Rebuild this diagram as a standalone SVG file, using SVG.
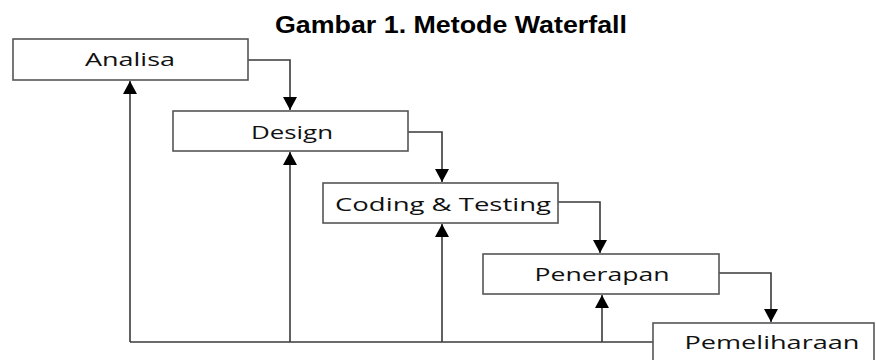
<svg xmlns="http://www.w3.org/2000/svg" width="877" height="360" viewBox="0 0 877 360">
<defs>
<marker id="arr" markerUnits="userSpaceOnUse" markerWidth="14" markerHeight="14" viewBox="0 0 14 14" refX="13" refY="7" orient="auto">
<path d="M0,0 L13,7 L0,14 Z" fill="#000"/>
</marker>
<style>
.box{fill:#fff;stroke:#555;stroke-width:1.6}
.lbl{font-family:"Open Sans","Noto Sans",sans-serif;font-size:19px;fill:#111;text-anchor:middle}
.ln{fill:none;stroke:#3a3a3a;stroke-width:1.6}
.title{font-family:"Liberation Sans",Arial,sans-serif;font-weight:bold;font-size:23px;fill:#000;text-anchor:middle}
</style>
</defs>
<rect width="877" height="360" fill="#fff"/>
<text class="title" x="451" y="33" textLength="352" lengthAdjust="spacingAndGlyphs">Gambar 1. Metode Waterfall</text>
<g id="connectors">
<path class="ln" d="M248,60 H290 V110" marker-end="url(#arr)"/>
<path class="ln" d="M408,132 H442 V182" marker-end="url(#arr)"/>
<path class="ln" d="M558,202 H600 V253" marker-end="url(#arr)"/>
<path class="ln" d="M719,273 H771 V322" marker-end="url(#arr)"/>
<path class="ln" d="M653,342 H130"/>
<path class="ln" d="M130,342 V81" marker-end="url(#arr)"/>
<path class="ln" d="M290,342 V152" marker-end="url(#arr)"/>
<path class="ln" d="M442,342 V224" marker-end="url(#arr)"/>
<path class="ln" d="M602,342 V295" marker-end="url(#arr)"/>
</g>
<g id="analisa">
<rect class="box" x="13" y="39" width="235" height="41"/>
<text class="lbl" x="130" y="66" textLength="90" lengthAdjust="spacingAndGlyphs">Analisa</text>
</g>
<g id="design">
<rect class="box" x="173" y="111" width="235" height="40"/>
<text class="lbl" x="292" y="139" textLength="82" lengthAdjust="spacingAndGlyphs">Design</text>
</g>
<g id="coding">
<rect class="box" x="323" y="183" width="235" height="40"/>
<text class="lbl" x="443" y="211" textLength="216" lengthAdjust="spacingAndGlyphs">Coding &amp; Testing</text>
</g>
<g id="penerapan">
<rect class="box" x="483" y="254" width="236" height="40"/>
<text class="lbl" x="602" y="281" textLength="135" lengthAdjust="spacingAndGlyphs">Penerapan</text>
</g>
<g id="pemeliharaan">
<rect class="box" x="653" y="323" width="221" height="45"/>
<text class="lbl" x="772" y="349" textLength="175" lengthAdjust="spacingAndGlyphs">Pemeliharaan</text>
</g>
</svg>
